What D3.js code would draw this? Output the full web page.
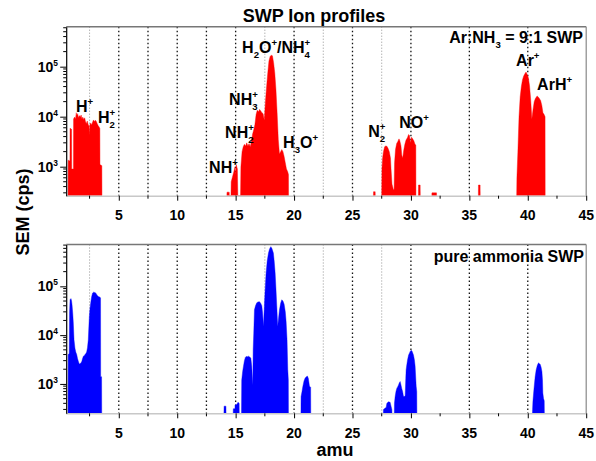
<!DOCTYPE html>
<html><head><meta charset="utf-8">
<script src="https://cdn.jsdelivr.net/npm/d3@7"></script>
<style>
html,body{margin:0;padding:0;background:#fff;}
svg{display:block;font-family:Arial,"Liberation Sans",sans-serif;}
</style></head>
<body><svg id="c" width="596" height="461"></svg>
<script>
// ---------- data (amu, cps) ----------
const xTicks = [5,10,15,20,25,30,35,40,45];
const xMinorTicks = [2.5,7.5,12.5,17.5,22.5,27.5,32.5,37.5,42.5];
const gridMajor = [5,7.5,10,12.5,15,20,25,30,35,40];
const gridMinor = [2.5,17.5,22.5,27.5];
const yMajorTicks = [1e3,1e4,1e5];

const topH = [[0.66,263],[0.67,1350],[0.82,1300],[0.83,5900],[0.96,5600],[0.97,900],[1.12,900],[1.13,9000],[1.22,9800],[1.3,9000],[1.36,12000],[1.42,10500],[1.48,11500],[1.55,9500],[1.62,10500],[1.7,9800],[1.78,10800],[1.85,9000],[1.92,9800],[2.0,8800],[2.08,9500],[2.15,8000],[2.22,7200],[2.3,8200],[2.38,7000],[2.45,6500],[2.48,4300],[2.52,6800],[2.6,7500],[2.68,6800],[2.76,7800],[2.84,8600],[2.92,8000],[3.0,8500],[3.08,8000],[3.16,7200],[3.24,6600],[3.32,6200],[3.38,5800],[3.39,1100],[3.55,1050],[3.56,263]];
const topNH = [[14.25,263],[14.26,310],[14.45,310],[14.46,263],[14.6,263],[14.62,500],[14.75,650],[14.85,800],[14.95,1000],[15.0,700],[15.05,1100],[15.15,900],[15.19,263],[15.42,263],[15.45,1000],[15.55,2000],[15.65,2500],[15.75,2800],[15.85,2600],[15.95,3000],[16.05,2600],[16.15,2900],[16.25,2500],[16.35,3200],[16.45,4500],[16.55,5500],[16.65,7000],[16.75,11000],[16.85,13500],[16.95,12500],[17.05,14000],[17.15,13000],[17.25,12000],[17.35,11500],[17.45,8500],[17.55,20000],[17.65,40000],[17.75,75000],[17.85,130000],[17.95,160000],[18.05,170000],[18.15,165000],[18.25,120000],[18.35,75000],[18.45,35000],[18.55,12000],[18.65,3500],[18.75,1800],[18.85,2000],[18.95,2200],[19.05,2000],[19.15,1600],[19.25,1200],[19.35,900],[19.45,800],[19.52,700],[19.53,263]];
const topN2NO = [[27.5,263],[27.52,900],[27.58,1500],[27.65,2000],[27.75,2500],[27.85,2600],[27.95,2550],[28.05,2300],[28.15,2000],[28.25,1500],[28.3,900],[28.38,450],[28.5,350],[28.56,350],[28.6,1200],[28.68,2200],[28.78,2900],[28.88,3200],[28.98,3600],[29.05,3300],[29.15,2600],[29.22,1700],[29.3,1500],[29.38,2100],[29.48,2800],[29.58,3400],[29.7,3800],[29.8,4400],[29.88,4200],[29.95,3000],[30.05,3900],[30.15,3600],[30.25,3300],[30.35,2800],[30.42,2700],[30.43,263]];
const topAr = [[39.05,263],[39.07,600],[39.15,1900],[39.25,10000],[39.35,25000],[39.45,40000],[39.55,55000],[39.65,65000],[39.75,72000],[39.85,78000],[39.95,70000],[40.05,60000],[40.15,42000],[40.25,22000],[40.35,9000],[40.45,14000],[40.55,20000],[40.65,23000],[40.8,26000],[40.95,24000],[41.1,21000],[41.2,17000],[41.3,12000],[41.4,11000],[41.48,10000],[41.49,263]];
const topBits = [
  [[26.79,263],[26.8,316],[26.94,316],[26.95,263]],
  [[30.64,263],[30.65,430],[30.79,430],[30.8,263]],
  [[31.79,263],[31.8,300],[32.19,300],[32.2,263]],
  [[35.77,263],[35.78,430],[35.92,430],[35.93,263]]
];

const botH = [[0.66,250],[0.67,4000],[0.76,4200],[0.79,30000],[0.83,53000],[0.91,56000],[0.96,50000],[1.0,42000],[1.06,28000],[1.11,17700],[1.17,8000],[1.25,5400],[1.32,4500],[1.4,4000],[1.47,3300],[1.54,2900],[1.61,2600],[1.68,2550],[1.75,2700],[1.82,2800],[1.9,3300],[1.97,3700],[2.04,3800],[2.11,4000],[2.18,4200],[2.25,4500],[2.32,5500],[2.39,8000],[2.44,15000],[2.48,24000],[2.54,36000],[2.6,46000],[2.68,62000],[2.76,73000],[2.84,76000],[2.92,75000],[3.0,74000],[3.08,70000],[3.16,65000],[3.25,62000],[3.39,60000],[3.44,58000],[3.45,1400],[3.53,1400],[3.54,250]];
const botBits = [
  [[14.0,250],[14.01,350],[14.17,350],[14.18,250]],
  [[14.79,250],[14.8,310],[14.94,310],[14.95,370],[15.1,380],[15.2,420],[15.3,400],[15.31,250]]
];
const botNH = [[15.5,250],[15.52,1200],[15.6,1800],[15.67,2300],[15.75,3000],[15.83,3500],[15.9,3650],[16.0,3600],[16.1,3700],[16.2,3550],[16.3,3400],[16.38,2300],[16.44,1200],[16.47,950],[16.5,5000],[16.55,11000],[16.61,33000],[16.7,40000],[16.81,46000],[16.92,48000],[17.04,48500],[17.14,45000],[17.24,40000],[17.31,28000],[17.38,15000],[17.46,40000],[17.53,90000],[17.61,190000],[17.7,330000],[17.81,480000],[17.9,580000],[18.01,650000],[18.1,600000],[18.23,480000],[18.3,330000],[18.38,190000],[18.45,90000],[18.52,40000],[18.6,15000],[18.67,22000],[18.75,33000],[18.85,45000],[18.95,53000],[19.05,50000],[19.15,43000],[19.25,30000],[19.32,19000],[19.4,8000],[19.46,2000],[19.51,1200],[19.52,250]];
const botH3O = [[20.59,250],[20.6,550],[20.68,700],[20.75,890],[20.85,1150],[20.95,1330],[21.05,1400],[21.14,1450],[21.22,1300],[21.32,900],[21.42,850],[21.43,250]];
const botN2 = [[27.64,250],[27.65,300],[27.8,320],[27.88,330],[27.94,400],[28.08,430],[28.22,420],[28.3,350],[28.37,300],[28.38,250]];
const botNO = [[28.58,250],[28.59,400],[28.65,550],[28.72,700],[28.79,810],[28.87,880],[28.94,950],[29.0,1050],[29.08,1120],[29.15,950],[29.22,800],[29.29,700],[29.36,560],[29.44,550],[29.51,580],[29.56,1300],[29.59,1950],[29.65,2500],[29.71,3100],[29.8,3900],[29.88,4300],[29.95,4700],[30.02,4900],[30.1,4700],[30.22,3900],[30.3,3100],[30.36,2300],[30.45,900],[30.5,700],[30.51,250]];
const botArH = [[40.4,250],[40.41,300],[40.44,440],[40.5,650],[40.55,890],[40.63,1400],[40.72,1950],[40.82,2400],[40.92,2700],[41.0,2600],[41.07,2500],[41.14,2200],[41.21,1800],[41.26,1200],[41.29,650],[41.35,500],[41.41,450],[41.42,250]];

// peak labels: segments, anchor amu, anchor cps (left/baseline)
const peakLabels = [
  [[["H",""],["+","sup"]], 1.34, 12400],
  [[["H",""],["2","sub"],["+","stk"]], 3.22, 7480],
  [[["NH",""],["+","sup"]], 12.73, 748],
  [[["NH",""],["2","sub"],["+","stk"]], 14.1, 3750],
  [[["NH",""],["3","sub"],["+","stk"]], 14.44, 17100],
  [[["H",""],["2","sub"],["O",""],["+","sup"],["/NH",""],["4","sub"],["+","stk"]], 15.55, 188000],
  [[["H",""],["3","sub"],["O",""],["+","sup"]], 19.06, 2370],
  [[["N",""],["2","sub"],["+","stk"]], 26.34, 3930],
  [[["NO",""],["+","sup"]], 29.0, 5940],
  [[["Ar",""],["+","sup"]], 39.0, 103000],
  [[["ArH",""],["+","sup"]], 40.8, 34200]
];

// ---------- drawing ----------
const svg = d3.select("#c");
const x = d3.scaleLinear().domain([0.5,45]).range([66.2,586.2]);
const panels = [
  {y: d3.scaleLog().domain([263,6.3e5]).range([195.7,26.7]), color:"#ff0000",
   series:[topH, topNH, topN2NO, topAr, ...topBits], labelY:220},
  {y: d3.scaleLog().domain([250,7.2e5]).range([413.3,244.5]), color:"#0000ff",
   series:[botH, ...botBits, botNH, botH3O, botN2, botNO, botArH], labelY:438}
];

function rich(g, px, py, parts, size, anchor){
  const t = g.append("text").attr("x",px).attr("y",py).attr("font-size",size)
    .attr("font-weight","bold").attr("fill","#000");
  if(anchor) t.attr("text-anchor",anchor);
  let cur=0, prev=null;
  parts.forEach(([s,k])=>{
    const off = k==="sub" ? size*0.32 : (k==="sup"||k==="stk") ? -size*0.42 : 0;
    const ts = t.append("tspan").attr("dy", off-cur).text(s);
    cur = off;
    if(k) ts.attr("font-size", size*0.6);
    if(k==="stk" && prev) ts.attr("dx", -prev.node().getComputedTextLength());
    prev = ts;
  });
  return t;
}

panels.forEach((p,i)=>{
  const y = p.y;
  const [yb, yt] = y.range();
  const g = svg.append("g");
  const cid = "clip"+i;
  svg.append("clipPath").attr("id",cid).append("rect")
    .attr("x",x.range()[0]).attr("y",yt).attr("width",x.range()[1]-x.range()[0]).attr("height",yb-yt);
  // grid
  g.selectAll(".gM").data(gridMajor).join("line")
    .attr("x1",d=>x(d)).attr("x2",d=>x(d)).attr("y1",yt).attr("y2",yb)
    .attr("stroke","#111").attr("stroke-width",1.3).attr("stroke-dasharray","1.5,2.5");
  g.selectAll(".gm").data(gridMinor).join("line")
    .attr("x1",d=>x(d)).attr("x2",d=>x(d)).attr("y1",yt).attr("y2",yb)
    .attr("stroke","#777").attr("stroke-width",0.8).attr("stroke-dasharray","1,2");
  // areas
  const area = d3.area().x(d=>x(d[0])).y0(yb).y1(d=>y(d[1]));
  g.append("g").attr("clip-path",`url(#${cid})`).selectAll("path").data(p.series).join("path")
    .attr("d",area).attr("fill",p.color).attr("stroke",p.color).attr("stroke-width",0.4);
  // frame
  g.append("line").attr("x1",x.range()[0]).attr("x2",x.range()[1]).attr("y1",yt).attr("y2",yt)
    .attr("stroke","#777").attr("stroke-width",1.5);
  g.append("line").attr("x1",x.range()[1]).attr("x2",x.range()[1]).attr("y1",yt).attr("y2",yb)
    .attr("stroke","#888").attr("stroke-width",1.2);
  g.append("line").attr("x1",x.range()[0]).attr("x2",x.range()[1]).attr("y1",yb+0.5).attr("y2",yb+0.5)
    .attr("stroke","#c8c8c8").attr("stroke-width",1.5);
  // x axis ticks
  const xa = g.append("g").attr("transform",`translate(0,${yb})`)
    .call(d3.axisBottom(x).tickValues(xTicks).tickSize(5).tickSizeOuter(0).tickFormat(""));
  xa.select(".domain").remove();
  xa.selectAll("line").attr("stroke","#000");
  g.selectAll(".xm").data(xMinorTicks).join("line")
    .attr("x1",d=>x(d)).attr("x2",d=>x(d)).attr("y1",yb).attr("y2",yb+3).attr("stroke","#000");
  g.selectAll(".xl").data(xTicks).join("text")
    .attr("x",d=>x(d)).attr("y",p.labelY).attr("text-anchor","middle")
    .attr("font-size",14).attr("font-weight","bold").text(d=>d);
  // y axis
  const ya = g.append("g").attr("transform",`translate(${x.range()[0]},0)`)
    .call(d3.axisLeft(y).tickValues(yMajorTicks).tickSize(6).tickSizeOuter(0).tickFormat(""));
  ya.select(".domain").attr("stroke","#000").attr("stroke-width",1.2);
  const minor = [];
  const [d0,d1] = y.domain();
  for(let e=2;e<=5;e++) for(let m=1;m<10;m++){const v=m*Math.pow(10,e); if(m>1 && v>=d0 && v<=d1) minor.push(v);}
  g.selectAll(".ym").data(minor).join("line")
    .attr("x1",x.range()[0]-3).attr("x2",x.range()[0]).attr("y1",d=>y(d)).attr("y2",d=>y(d)).attr("stroke","#000");
  yMajorTicks.forEach(v=>{
    rich(g, 58, y(v)+5, [["10",""],[String(Math.round(Math.log10(v))),"sup"]], 14, "end");
  });
});

// peak labels (top panel)
const gl = svg.append("g");
peakLabels.forEach(([parts,m,v])=>{
  rich(gl, x(m), panels[0].y(v), parts, 16);
});

// titles
svg.append("text").attr("x",314).attr("y",22).attr("text-anchor","middle")
  .attr("font-size",18).attr("font-weight","bold").text("SWP Ion profiles");
rich(svg, 583, 43, [["Ar:NH",""],["3","sub"],[" = 9:1 SWP",""]], 16, "end");
svg.append("text").attr("x",584).attr("y",262).attr("text-anchor","end")
  .attr("font-size",16).attr("font-weight","bold").text("pure ammonia SWP");
svg.append("text").attr("transform","translate(29,212) rotate(-90)").attr("text-anchor","middle")
  .attr("font-size",18).attr("font-weight","bold").text("SEM (cps)");
svg.append("text").attr("x",335).attr("y",456).attr("text-anchor","middle")
  .attr("font-size",18).attr("font-weight","bold").text("amu");
</script></body></html>
